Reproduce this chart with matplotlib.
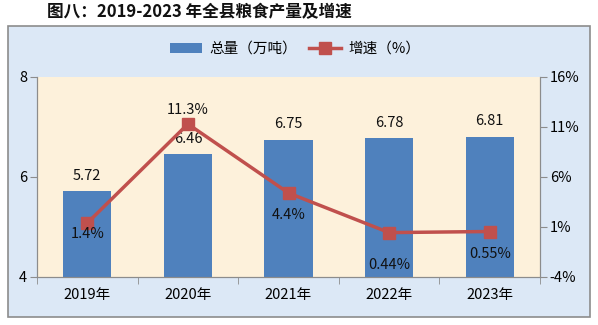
import numpy as np
import matplotlib
matplotlib.use('Agg')
import matplotlib.pyplot as plt
from matplotlib.patches import Rectangle

plt.rcParams['font.family'] = ['Noto Sans CJK SC', 'DejaVu Sans']

years = ['2019年', '2020年', '2021年', '2022年', '2023年']
output = [5.72, 6.46, 6.75, 6.78, 6.81]
growth = [1.4, 11.3, 4.4, 0.44, 0.55]
growth_labels = ['1.4%', '11.3%', '4.4%', '0.44%', '0.55%']
# label offsets (points) for the growth labels
growth_off = [-8, 10, -16, -23, -16]

bar_c = '#4f81bd'
line_c = '#c0504d'

fig = plt.figure(figsize=(5.98, 3.25), dpi=100)
fig.patch.set_facecolor('white')

# outer chart frame
fig.patches.append(Rectangle((8/598, 8/325), 582/598, 291/325, transform=fig.transFigure,
                             facecolor='#dce8f6', edgecolor='#8c8c8c', lw=1.2, zorder=-5))

fig.text(47/598, 1-12/325, '图八：2019-2023 年全县粮食产量及增速', ha='left', va='center',
         fontsize=12, fontweight='bold', color='#111111')

ax = fig.add_axes([37/598, 48/325, 503/598, 200/325])
ax.set_facecolor('#fdf1db')
x = np.arange(len(years))
bars = ax.bar(x, output, width=0.48, color=bar_c, zorder=2, label='总量（万吨）')
ax.set_xlim(-0.5, 4.5)
ax.set_ylim(4, 8)
ax.set_yticks([4, 6, 8])
ax.set_xticks(x)
ax.set_xticklabels(years, fontsize=10.5)
ax.set_xticks(np.arange(-0.5, 5, 1), minor=True)
ax.tick_params(axis='x', which='major', length=0, pad=8)
ax.tick_params(axis='x', which='minor', length=5, color='#8c8c8c')
ax.tick_params(axis='y', length=5, color='#8c8c8c', labelsize=10.5, pad=2)
for s in ['top']:
    ax.spines[s].set_visible(False)
for s in ['left', 'bottom', 'right']:
    ax.spines[s].set_color('#8c8c8c')
for xi, v in zip(x, output):
    ax.annotate(f'{v:.2f}', (xi, v), xytext=(0, 6), textcoords='offset points',
                ha='center', va='bottom', fontsize=10.5, color='#111111')

ax2 = ax.twinx()
ax2.plot(x, growth, color=line_c, lw=2.5, marker='s', ms=8, zorder=3, label='增速（%）')
ax2.set_ylim(-4, 16)
ax2.set_yticks([-4, 1, 6, 11, 16])
ax2.set_yticklabels([f'{t}%' for t in [-4, 1, 6, 11, 16]])
ax2.tick_params(axis='y', length=5, color='#8c8c8c', labelsize=10.5, pad=2)
ax2.spines['top'].set_visible(False)
for s in ['left', 'bottom', 'right']:
    ax2.spines[s].set_color('#8c8c8c')
for xi, v, lab, off in zip(x, growth, growth_labels, growth_off):
    ax2.annotate(lab, (xi, v), xytext=(0, off), textcoords='offset points',
                 ha='center', va='center', fontsize=10.5, color='#111111')

h1, l1 = ax.get_legend_handles_labels()
h2, l2 = ax2.get_legend_handles_labels()
fig.legend(h1 + h2, l1 + l2, loc='center', bbox_to_anchor=(295/598, 1-49/325), ncol=2,
           frameon=False, fontsize=10.5, handlelength=2.2, columnspacing=0.8, handletextpad=0.5)

fig.savefig('out.png', dpi=100)
